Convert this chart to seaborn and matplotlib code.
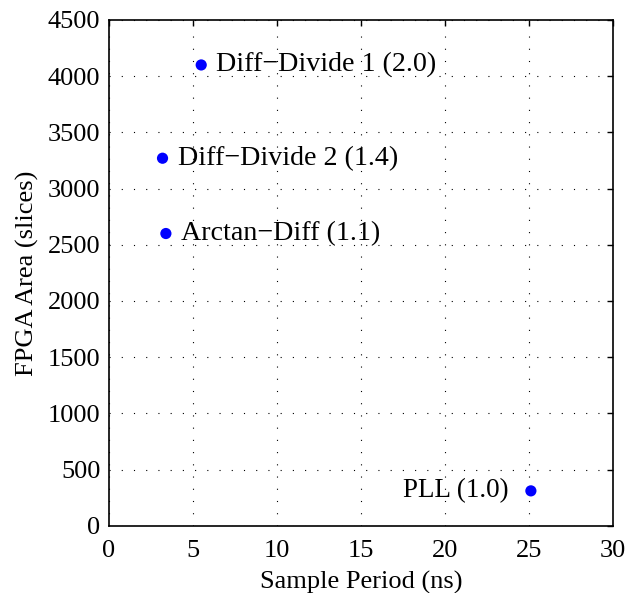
import matplotlib
matplotlib.use("Agg")
import matplotlib.pyplot as plt
import seaborn as sns
import pandas as pd

names = ["Diff\u2212Divide 1 (2.0)", "Diff\u2212Divide 2 (1.4)", "Arctan\u2212Diff (1.1)", "PLL (1.0)"]
period = [5.5, 3.2, 3.4, 25.1]
area = [4100, 3270, 2600, 310]
xticks = [0, 5, 10, 15, 20, 25, 30]
yticks = [0, 500, 1000, 1500, 2000, 2500, 3000, 3500, 4000, 4500]

df = pd.DataFrame({"name": names, "period": period, "area": area})

sns.set_style("white")
plt.rcParams["font.family"] = ["Liberation Serif", "DejaVu Serif"]
plt.rcParams["mathtext.fontset"] = "stix"
plt.rcParams["text.color"] = "black"
plt.rcParams["axes.labelcolor"] = "black"
plt.rcParams["xtick.color"] = "black"
plt.rcParams["ytick.color"] = "black"

fig = plt.figure(figsize=(6.29, 5.93), dpi=100)
ax = fig.add_axes([108.7 / 629, 1 - 525.7 / 593, (613.3 - 108.7) / 629, (525.7 - 20) / 593])

sns.scatterplot(data=df, x="period", y="area", ax=ax, color="#0000ff",
                s=65, edgecolor="none", zorder=3, legend=False)

for n, x, y in zip(df["name"], df["period"], df["area"]):
    if x > 20:
        ax.annotate(n, (x, y), xytext=(-16, 0), textcoords="offset points",
                    ha="right", va="center", fontsize=19.5, color="black")
    else:
        ax.annotate(n, (x, y), xytext=(11, 0), textcoords="offset points",
                    ha="left", va="center", fontsize=20.2, color="black")

ax.set_xlim(0, 30)
ax.set_ylim(0, 4500)
ax.set_xticks(xticks)
ax.set_yticks(yticks)
ax.tick_params(direction="in", length=4, width=1, labelsize=19, top=True, right=True,
               pad=6)
ax.tick_params(axis="x", pad=10)
ax.grid(True, linestyle=(0, (1, 10)), color="black", linewidth=0.8)
for s in ax.spines.values():
    s.set_linewidth(1.2)
    s.set_color("black")
ax.set_xlabel("Sample Period (ns)", fontsize=19, labelpad=7)
ax.set_ylabel("FPGA Area (slices)", fontsize=19, labelpad=6)

fig.savefig("out.png", dpi=100)
